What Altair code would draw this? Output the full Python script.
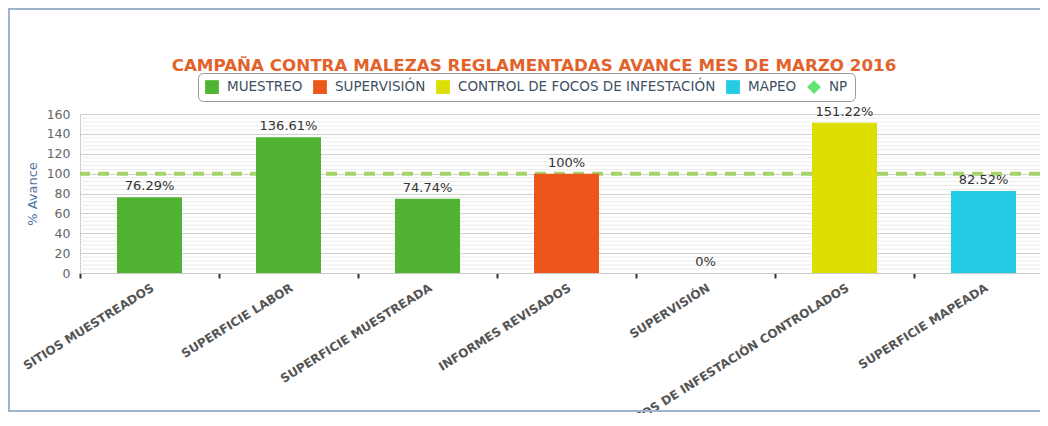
import altair as alt
import pandas as pd

categories = ["SITIOS MUESTREADOS", "SUPERFICIE LABOR", "SUPERFICIE MUESTREADA",
              "INFORMES REVISADOS", "SUPERVISIÓN", "FOCOS DE INFESTACIÓN CONTROLADOS",
              "SUPERFICIE MAPEADA"]
values = [76.29, 136.61, 74.74, 100, 0, 151.22, 82.52]
series = ["MUESTREO", "MUESTREO", "MUESTREO", "SUPERVISIÓN", "SUPERVISIÓN",
          "CONTROL DE FOCOS DE INFESTACIÓN", "MAPEO"]
legend_names = ["MUESTREO", "SUPERVISIÓN", "CONTROL DE FOCOS DE INFESTACIÓN", "MAPEO", "NP"]
legend_colors = ["#50B432", "#ED561B", "#DDDF00", "#24CBE5", "#64E572"]
legend_shapes = ["square", "square", "square", "square", "diamond"]
np_target = [100]
y_major = list(range(0, 161, 20))
y_minor = [v for v in range(4, 160, 4) if v % 20 != 0]

df = pd.DataFrame({"Categoria": categories, "Avance": values, "Serie": series})
df_leg = pd.DataFrame({"Serie": legend_names})
df_np = pd.DataFrame({"Avance": np_target})
df_minor = pd.DataFrame({"Avance": y_minor})
df_frame = pd.DataFrame({"a": [0]})

color_scale = alt.Scale(domain=legend_names, range=legend_colors)
shape_scale = alt.Scale(domain=legend_names, range=legend_shapes)

leg = alt.Legend(orient="none", legendX=118, legendY=-41, title=None,
                 direction="horizontal", strokeColor="#999999",
                 cornerRadius=5, padding=7, fillColor="#ffffff",
                 labelFont="DejaVu Sans", labelFontSize=13.5, labelLimit=400,
                 labelColor="#3e4f63", symbolSize=190, labelOffset=8,
                 columnPadding=10, symbolStrokeWidth=0, symbolOpacity=1)

x_enc = alt.X(
    "Categoria:N", sort=categories,
    scale=alt.Scale(domain=categories, range=[0, 973], paddingInner=0, paddingOuter=0),
    axis=alt.Axis(title=None, labelAngle=-32, labelFont="DejaVu Sans", labelFontWeight="bold",
                  labelFontSize=12, labelColor="#555555", labelLimit=400, tickBand="extent",
                  tickSize=5, tickWidth=2, tickColor="#333333", domainColor="#c8c8c8",
                  labelPadding=4, grid=False),
)
y_enc = alt.Y(
    "Avance:Q", scale=alt.Scale(domain=[0, 160], nice=False),
    axis=alt.Axis(values=y_major, gridColor="#d0d0d0",
                  ticks=False, domainColor="#c8c8c8", labelPadding=10, labelFontSize=12.5,
                  labelColor="#666666", labelFont="DejaVu Sans", title="% Avance",
                  titleColor="#4d759e", titleFont="DejaVu Sans", titleFontSize=13,
                  titleFontWeight="normal", titleX=-48, titleY=79.5, titleBaseline="middle",
                  titleAngle=270, labelOverlap=False),
)

frame = alt.Chart(df_frame).mark_rect(fill="transparent", stroke="#9fb4cc", strokeWidth=2).encode(
    x=alt.value(-71), x2=alt.value(1100), y=alt.value(-105), y2=alt.value(297)
)

minor = alt.Chart(df_minor).mark_rule(color="#ececec", strokeWidth=1).encode(y=y_enc)

rule = alt.Chart(df_np).mark_rule(color="#a5d46a", strokeWidth=4, strokeDash=[11, 8]).encode(
    y=y_enc
)

bars = alt.Chart(df).mark_bar(width=65).encode(
    x=x_enc, y=y_enc,
    color=alt.Color("Serie:N", scale=color_scale, legend=leg),
)

legend_pts = alt.Chart(df_leg).mark_point(filled=True).encode(
    x=alt.value(-400), y=alt.value(100),
    color=alt.Color("Serie:N", scale=color_scale, legend=leg),
    shape=alt.Shape("Serie:N", scale=shape_scale, legend=leg),
)

text = alt.Chart(df).transform_calculate(
    etiqueta="format(datum.Avance, '.2~f') + '%'"
).mark_text(dy=-4, baseline="bottom", fontSize=13, font="DejaVu Sans", color="#333333").encode(
    x=x_enc, y=y_enc, text="etiqueta:N"
)

chart = alt.layer(frame, minor, rule, bars, legend_pts, text).properties(
    width=960, height=159,
    title=alt.TitleParams("CAMPAÑA CONTRA MALEZAS REGLAMENTADAS AVANCE MES DE MARZO 2016",
                          font="DejaVu Sans", fontSize=16.7, fontWeight="bold", color="#e2622b",
                          anchor="middle", dx=-26, offset=0, dy=80, baseline="alphabetic"),
    autosize=alt.AutoSizeParams(type="none"),
    padding={"left": 72, "top": 106, "right": 0, "bottom": 140},
).configure_view(strokeWidth=0)

chart.save("out.html", embed_options={"renderer": "svg", "actions": False})
